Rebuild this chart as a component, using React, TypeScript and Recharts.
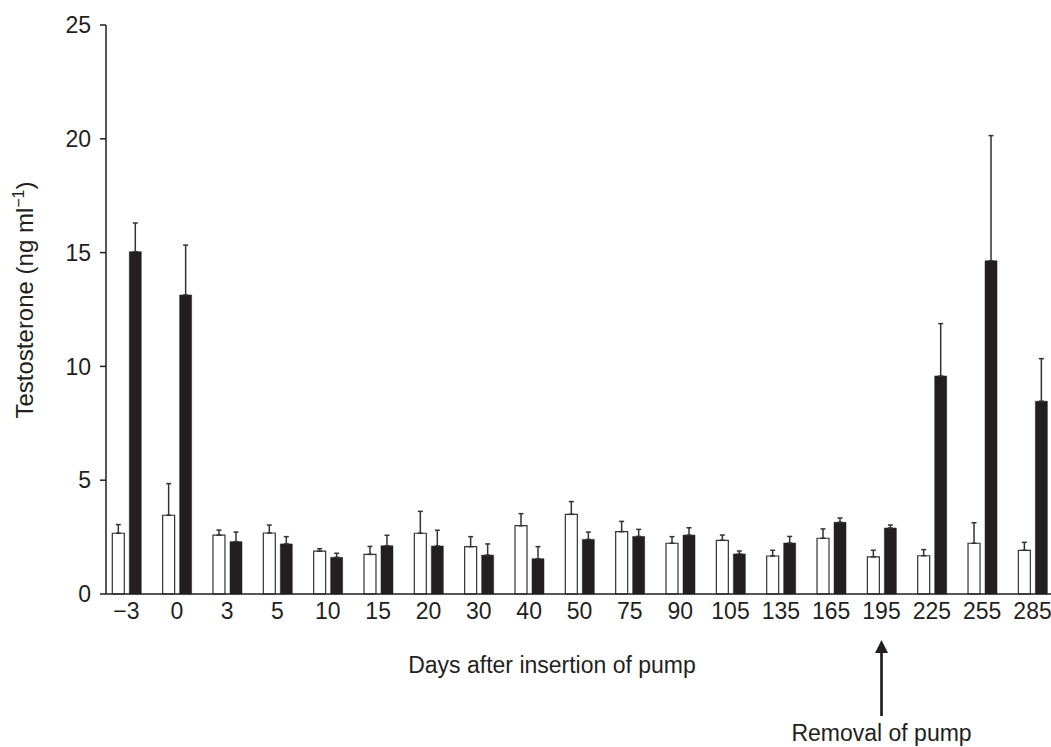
import React from 'react';
import { BarChart, Bar, XAxis, YAxis, ErrorBar, ReferenceLine, Customized } from 'recharts';

const categories = ['\u22123', '0', '3', '5', '10', '15', '20', '30', '40', '50', '75', '90', '105', '135', '165', '195', '225', '255', '285'];
const controlMean = [2.67, 3.46, 2.59, 2.68, 1.88, 1.74, 2.67, 2.08, 3.0, 3.5, 2.74, 2.23, 2.36, 1.67, 2.45, 1.63, 1.68, 2.23, 1.92];
const controlSem = [0.38, 1.39, 0.22, 0.35, 0.11, 0.35, 0.96, 0.44, 0.53, 0.56, 0.45, 0.29, 0.23, 0.25, 0.41, 0.29, 0.27, 0.9, 0.35];
const treatedMean = [15.04, 13.14, 2.3, 2.2, 1.61, 2.12, 2.11, 1.71, 1.55, 2.4, 2.53, 2.59, 1.76, 2.24, 3.15, 2.9, 9.58, 14.64, 8.47];
const treatedSem = [1.26, 2.19, 0.42, 0.32, 0.18, 0.46, 0.69, 0.49, 0.53, 0.32, 0.31, 0.32, 0.13, 0.29, 0.19, 0.13, 2.3, 5.5, 1.87];
const yTicks = [0, 5, 10, 15, 20, 25];
const removalDay = '195';

const data = categories.map((day, i) => ({
  day,
  control: controlMean[i],
  controlErr: [0, controlSem[i]],
  treated: treatedMean[i],
  treatedErr: [0, treatedSem[i]],
}));

const FONT = "'Liberation Sans', Arial, Helvetica, sans-serif";
const INK = '#231f20';

const Titles = () => (
  <g>
    <text
      x={33}
      y={300}
      transform="rotate(-90, 33, 300)"
      textAnchor="middle"
      fontFamily={FONT}
      fontSize={24}
      fill={INK}
    >
      Testosterone (ng ml
      <tspan dy={-9} fontSize={16}>{'\u22121'}</tspan>
      <tspan dy={9}>)</tspan>
    </text>
    <text x={552} y={673} textAnchor="middle" fontFamily={FONT} fontSize={23} fill={INK}>
      Days after insertion of pump
    </text>
  </g>
);

const ArrowShape = (props: any) => {
  const { x1, y1, y2 } = props;
  const tip = Math.min(y1, y2);
  const bottom = Math.max(y1, y2);
  return (
    <g>
      <line x1={x1} y1={tip + 10} x2={x1} y2={bottom} stroke={INK} strokeWidth={2.7} />
      <polygon points={`${x1},${tip} ${x1 - 6.5},${tip + 13} ${x1 + 6.5},${tip + 13}`} fill={INK} />
      <text x={x1} y={bottom + 25} textAnchor="middle" fontFamily={FONT} fontSize={23} fill={INK}>
        Removal of pump
      </text>
    </g>
  );
};

export default function App() {
  return (
    <div style={{ position: 'absolute', left: 0, top: 0, width: 1051, height: 747, background: '#fff' }}>
      <BarChart
        width={1051}
        height={747}
        data={data}
        margin={{ top: 25, right: 0, bottom: 123, left: 0 }}
        barSize={12}
        barGap={5}
        barCategoryGap={0}
      >
        <XAxis
          dataKey="day"
          height={30}
          interval={0}
          tickLine={false}
          tickSize={0}
          tickMargin={9}
          padding={{ left: -4.7, right: -6.7 }}
          axisLine={{ stroke: INK, strokeWidth: 1.5 }}
          tick={{ fill: INK, fontSize: 23, fontFamily: FONT }}
        />
        <YAxis
          width={106}
          domain={[0, 25]}
          ticks={yTicks}
          interval={0}
          tickSize={6}
          tickMargin={9}
          axisLine={{ stroke: INK, strokeWidth: 1.5 }}
          tickLine={{ stroke: INK, strokeWidth: 1.5 }}
          tick={{ fill: INK, fontSize: 23, fontFamily: FONT }}
        />
        <Bar dataKey="control" fill="#ffffff" stroke="#333333" strokeWidth={1.2} isAnimationActive={false}>
          <ErrorBar dataKey="controlErr" direction="y" width={2.5} stroke="#333333" strokeWidth={1.5} isAnimationActive={false} />
        </Bar>
        <Bar dataKey="treated" fill={INK} stroke={INK} strokeWidth={0.5} isAnimationActive={false}>
          <ErrorBar dataKey="treatedErr" direction="y" width={2.5} stroke="#333333" strokeWidth={1.5} isAnimationActive={false} />
        </Bar>
        <ReferenceLine
          ifOverflow="visible"
          segment={[{ x: removalDay, y: -2.02 }, { x: removalDay, y: -5.36 }]}
          shape={ArrowShape}
        />
        <Customized component={Titles} />
      </BarChart>
    </div>
  );
}
